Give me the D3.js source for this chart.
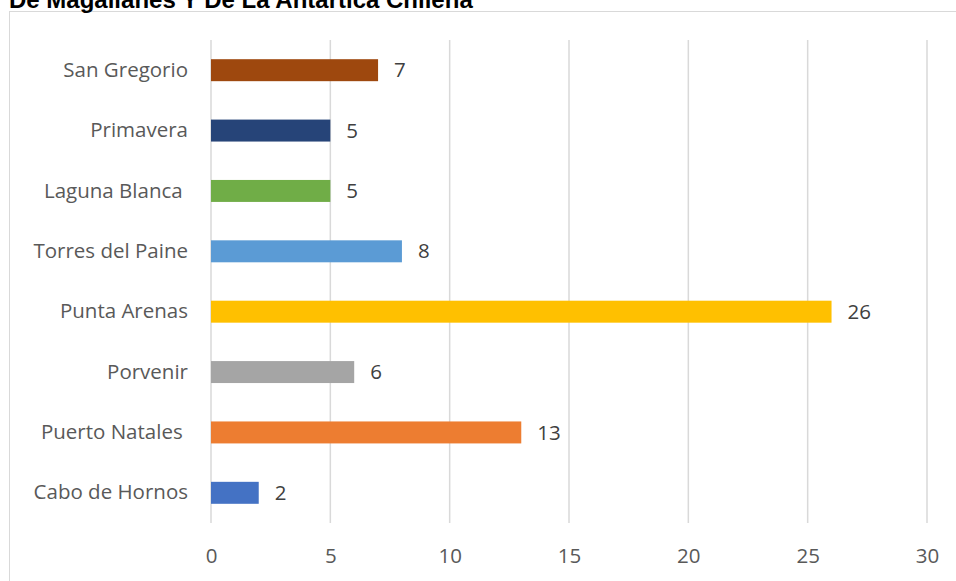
<!DOCTYPE html>
<html>
<head>
<meta charset="utf-8">
<script src="https://cdn.jsdelivr.net/npm/d3@7/dist/d3.min.js"></script>
<style>
  html, body { margin: 0; padding: 0; background: #fff; overflow: hidden; }
  svg { display: block; }
</style>
</head>
<body>
<svg id="chart" width="956" height="581"></svg>
<script>
// Communes (top to bottom as drawn) and their counts
const communes = ["San Gregorio", "Primavera", "Laguna Blanca ", "Torres del Paine",
                  "Punta Arenas", "Porvenir", "Puerto Natales ", "Cabo de Hornos"];
const counts = [7, 5, 5, 8, 26, 6, 13, 2];
const barColors = ["#9E480E", "#264478", "#70AD47", "#5B9BD5",
                   "#FFC000", "#A5A5A5", "#ED7D31", "#4472C4"];
const xTicks = [0, 5, 10, 15, 20, 25, 30];
const titleText = "De Magallanes Y De La Antártica Chilena";

const bodyFont = "'Open Sans', sans-serif";
const svg = d3.select("#chart");

// Chart frame
svg.append("rect")
  .attr("x", 9.5).attr("y", 11.5)
  .attr("width", 960).attr("height", 600)
  .attr("fill", "#fff")
  .attr("stroke", "#D9D9D9").attr("stroke-width", 1);

// Title (sits above the frame)
svg.append("text")
  .attr("x", 9).attr("y", 8)
  .style("font-family", "'Liberation Sans', Arial, sans-serif")
  .style("font-weight", "bold")
  .style("font-size", "24px")
  .attr("fill", "#000")
  .text(titleText);

const plot = { left: 211, right: 927, top: 40, bottom: 523 };

const x = d3.scaleLinear().domain([0, 30]).range([plot.left, plot.right]);
const y = d3.scaleBand().domain(communes).range([plot.top, plot.bottom]).paddingInner(0.636).paddingOuter(0.318);

// Vertical gridlines
svg.append("g").selectAll("line").data(xTicks).join("line")
  .attr("x1", d => x(d)).attr("x2", d => x(d))
  .attr("y1", plot.top).attr("y2", plot.bottom)
  .attr("stroke", "#D9D9D9").attr("stroke-width", 1.5);

// X axis tick labels
const xAxis = d3.axisBottom(x).tickValues(xTicks).tickSize(0).tickPadding(0);
const gx = svg.append("g").attr("transform", `translate(0,${plot.bottom})`).call(xAxis);
gx.select(".domain").remove();
gx.selectAll("text")
  .attr("dy", null).attr("y", 40)
  .style("font-family", bodyFont)
  .style("font-size", "20.5px").attr("fill", "#595959");

// Y axis category labels
const yAxis = d3.axisLeft(y).tickSize(0).tickPadding(23);
const gy = svg.append("g").attr("transform", `translate(${plot.left},0)`).call(yAxis);
gy.select(".domain").remove();
gy.selectAll("text")
  .style("font-family", bodyFont)
  .style("font-size", "20.5px").attr("fill", "#595959")
  .style("white-space", "pre");

// Bars
svg.append("g").selectAll("rect").data(communes).join("rect")
  .attr("x", x(0))
  .attr("y", d => y(d))
  .attr("width", (d, i) => x(counts[i]) - x(0))
  .attr("height", y.bandwidth())
  .attr("fill", (d, i) => barColors[i]);

// Value labels
svg.append("g").selectAll("text").data(communes).join("text")
  .attr("x", (d, i) => x(counts[i]) + 16)
  .attr("y", d => y(d) + y.bandwidth() / 2)
  .attr("dy", "0.35em")
  .style("font-family", bodyFont)
  .style("font-size", "20.5px").attr("fill", "#404040")
  .text((d, i) => counts[i]);
</script>
</body>
</html>
